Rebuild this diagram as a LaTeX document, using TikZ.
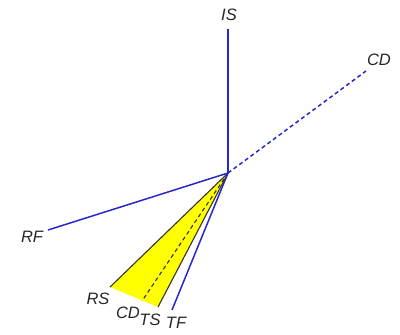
\documentclass[tikz,border=0pt]{standalone}
\usepackage{fontspec}
\setmainfont{Liberation Sans}
\usepackage{tikz}
\usetikzlibrary{positioning,calc}
\definecolor{axis}{RGB}{40,40,200}
\definecolor{cone}{RGB}{255,255,0}

\begin{document}
\begin{tikzpicture}[
    x=1pt, y=-1pt,
    lbl/.style={font=\fontsize{16.5}{16.5}\selectfont\itshape, text=black!85, inner sep=0pt},
    axisline/.style={axis, line width=1.5pt},
    dashline/.style={axis, line width=1.5pt, dash pattern=on 4pt off 3pt},
    edgeline/.style={black!80, line width=1.1pt}
]
    \useasboundingbox (0,0) rectangle (400,335);
    \coordinate (o) at (228,173);
    \coordinate (is) at (228,29);
    \coordinate (cdu) at (366,71);
    \coordinate (rf) at (48,230);
    \coordinate (rs) at (110,287);
    \coordinate (cdl) at (142,301);
    \coordinate (ts) at (158,307);
    \coordinate (tf) at (172,310);

    % yellow cone
    \fill[cone] (o) -- (rs) -- (ts) -- cycle;
    \draw[edgeline] (o) -- (rs);
    \draw[edgeline] (o) -- (ts);
    \draw[black!80, line width=1.1pt, dash pattern=on 4pt off 3pt] (o) -- (cdl);

    \draw[axisline] (o) -- (is);
    \draw[dashline] (o) -- (cdu);
    \draw[axisline] (o) -- (rf);
    \draw[axisline] (o) -- (tf);

    \node[lbl] (isl) at (229,15) {IS};
    \node[lbl] (cdul) at (379,60) {CD};
    \node[lbl] (rfl) at (32,237) {RF};
    \node[lbl] (rsl) at (98,299) {RS};
    \node[lbl] (cdll) at (128,313) {CD};
    \node[lbl] (tsl) at (150,320) {TS};
    \node[lbl] (tfl) at (176,323) {TF};
\end{tikzpicture}
\end{document}
